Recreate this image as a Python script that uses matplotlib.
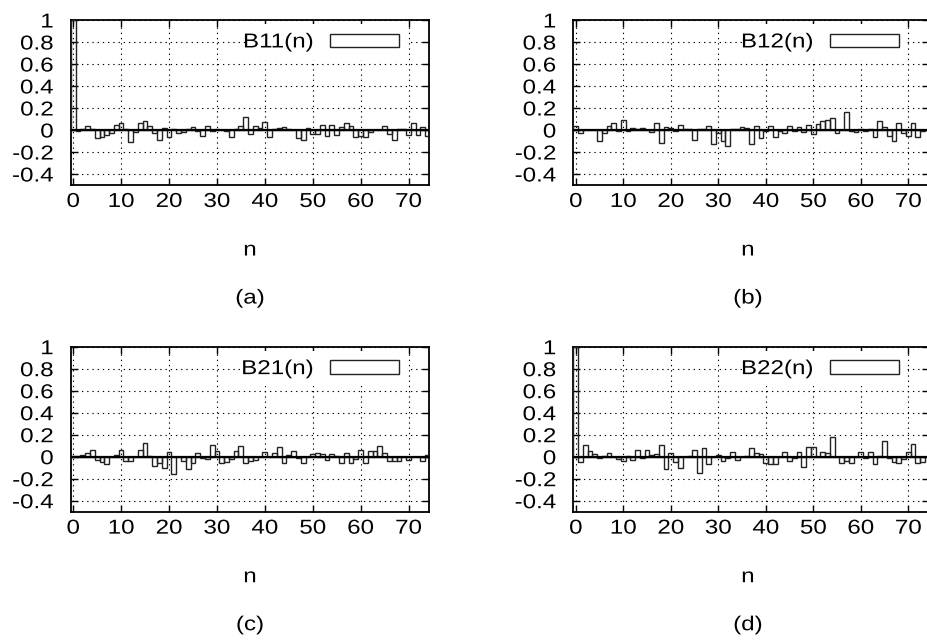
import numpy as np
import matplotlib
matplotlib.use('Agg')
import matplotlib.pyplot as plt
from matplotlib.patheffects import AbstractPathEffect
from matplotlib.transforms import Affine2D

FS = 14.5
plt.rcParams['font.family'] = ['Liberation Sans', 'DejaVu Sans']
plt.rcParams['font.size'] = FS

# sample correlation coefficients, lag n = 0, 1, 2, ...
b11 = [1.0, -0.01, 0.005, 0.035, 0.01, -0.075, -0.06, -0.045, -0.025, 0.05,
       0.06, 0.005, -0.105, -0.015, 0.06, 0.08, 0.04, -0.03, -0.09, 0.015,
       -0.065, 0.012, -0.03, -0.02, 0.01, 0.025, -0.012, -0.055, 0.035, -0.01,
       0.012, 0.0, -0.01, -0.06, 0.005, 0.04, 0.12, -0.035, 0.04, 0.015,
       0.07, -0.065, 0.01, 0.015, 0.03, 0.005, 0.0, -0.075, -0.095, 0.02,
       -0.035, -0.035, 0.05, -0.05, 0.05, -0.045, 0.03, 0.065, 0.035, -0.06,
       -0.05, -0.06, -0.015, 0.0, 0.0, 0.04, -0.04, -0.09, 0.01, 0.012,
       -0.045, 0.065, -0.045, 0.025, -0.05]
b12 = [0.035, -0.03, 0.0, 0.0, 0.0, -0.1, -0.03, 0.035, 0.06, -0.01,
       0.09, -0.005, 0.02, 0.01, 0.02, 0.0, -0.02, 0.06, -0.115, 0.03,
       0.02, -0.01, 0.05, 0.01, 0.01, -0.09, 0.01, 0.005, 0.04, -0.13,
       -0.03, -0.1, -0.145, 0.01, 0.01, 0.03, 0.02, -0.13, 0.035, -0.07,
       -0.01, 0.035, -0.06, -0.005, -0.03, 0.035, -0.01, 0.03, -0.02, 0.05,
       -0.04, 0.055, 0.08, 0.09, 0.105, -0.03, 0.0, 0.165, -0.01, -0.015,
       0.01, -0.005, 0.01, -0.06, 0.08, 0.03, -0.05, -0.1, 0.06, -0.03,
       -0.05, 0.065, -0.06, -0.01]
b21 = [0.01, 0.01, 0.02, 0.03, 0.065, -0.03, -0.05, -0.07, -0.005, 0.02,
       0.06, -0.04, -0.035, 0.0, 0.06, 0.125, 0.01, -0.085, -0.06, -0.1,
       0.04, -0.155, -0.005, -0.04, -0.11, -0.055, 0.035, -0.015, -0.025, 0.105,
       0.05, -0.06, -0.05, -0.02, 0.05, 0.1, -0.06, -0.04, -0.03, 0.0,
       0.04, 0.0, 0.035, 0.085, -0.06, 0.02, 0.055, -0.015, -0.055, 0.0,
       0.025, 0.035, 0.025, -0.03, 0.025, 0.01, -0.055, 0.03, -0.055, -0.025,
       0.065, -0.06, 0.055, 0.05, 0.095, 0.03, -0.035, -0.035, -0.035, 0.0,
       -0.03, 0.0, 0.0, -0.04, 0.02]
b22 = [1.0, -0.045, 0.105, 0.055, 0.025, -0.015, 0.005, 0.03, -0.005, -0.02,
       -0.035, 0.01, -0.03, 0.065, -0.01, 0.06, 0.02, 0.025, 0.105, -0.11,
       0.035, -0.045, -0.105, 0.0, 0.01, 0.06, -0.145, 0.075, -0.065, 0.0,
       0.02, -0.035, -0.015, 0.045, -0.03, 0.0, 0.01, 0.075, 0.035, 0.025,
       -0.055, -0.07, -0.07, 0.0, 0.04, -0.035, -0.01, 0.045, -0.095, 0.085,
       0.085, 0.0, 0.04, 0.035, 0.18, 0.0, -0.055, -0.035, -0.055, 0.0,
       0.04, -0.01, 0.04, -0.065, 0.01, 0.14, -0.015, -0.05, -0.055, -0.025,
       0.045, 0.115, -0.055, -0.045]

series = [b11, b12, b21, b22]
names = ['B11(n)', 'B12(n)', 'B21(n)', 'B22(n)']
captions = ['(a)', '(b)', '(c)', '(d)']

xticks = [0, 10, 20, 30, 40, 50, 60, 70]
yticks = [-0.4, -0.2, 0, 0.2, 0.4, 0.6, 0.8, 1]
ytick_labels = ['-0.4', '-0.2', '0', '0.2', '0.4', '0.6', '0.8', '1']

SX = 1.2  # horizontal widening of the lettering


class Widen(AbstractPathEffect):
    """Stretch text glyphs sideways about a fixed point of the string."""

    def __init__(self, sx, anchor):
        super().__init__()
        self.sx = sx
        self.anchor = anchor

    def draw_path(self, renderer, gc, tpath, affine, rgbFace=None):
        ext = tpath.get_extents()
        x0 = ext.x0 + self.anchor * ext.width
        st = Affine2D().translate(-x0, 0).scale(self.sx, 1).translate(x0, 0)
        renderer.draw_path(gc, tpath, st + affine, rgbFace)


W, H = 927, 641
fig = plt.figure(figsize=(W / 100, H / 100), dpi=100)
em = FS * 100 / 72  # font size in pixels

# plot boxes in pixels: left, top, width, height
boxes = [(70.8, 20, 358.3, 165), (573.4, 20, 355.3, 165),
         (70.8, 346.7, 358.3, 165), (573.4, 346.7, 355.3, 165)]
label_x = [0.5, 0.491, 0.5, 0.491]

for vals, name, cap, (l, t, w, h), lx in zip(series, names, captions, boxes, label_x):
    ax = fig.add_axes([l / W, 1 - (t + h) / H, w / W, h / H])
    n = np.arange(len(vals))
    ax.bar(n, vals, width=1.0, facecolor='none', edgecolor='#222222',
           linewidth=1.0, label=name, zorder=3)
    ax.axhline(0, color='black', linewidth=1.6, zorder=4)

    ax.set_xlim(-0.5, 74.3)
    ax.set_ylim(-0.5, 1.0)
    ax.set_xticks(xticks)
    ax.set_yticks(yticks)
    ax.set_yticklabels(ytick_labels)
    ax.tick_params(direction='in', length=5, width=1, top=True, right=True,
                   labelsize=FS)
    ax.tick_params(axis='y', pad=12.5)
    ax.tick_params(axis='x', pad=5)
    ax.grid(True, color='black', linewidth=0.8, linestyle=(0, (1.2, 3.5)), zorder=1)
    for sp in ax.spines.values():
        sp.set_linewidth(1.3)

    for lab in ax.get_xticklabels():
        lab.set_path_effects([Widen(SX, 0.5)])
    for lab in ax.get_yticklabels():
        lab.set_path_effects([Widen(SX, 1.0)])

    ax.set_xlabel('n', fontsize=FS)
    ax.xaxis.set_label_coords(lx, -0.394)
    ax.xaxis.label.set_va('center')
    ax.xaxis.label.set_path_effects([Widen(SX, 0.5)])
    ax.text(lx, -0.685, cap, transform=ax.transAxes, ha='center', va='center',
            fontsize=FS, path_effects=[Widen(SX, 0.5)])

    pad = 0.4 * em
    leg = ax.legend(loc='center right',
                    bbox_to_anchor=((399 + pad - 70.8) / 358.3, 0.867),
                    markerfirst=False, frameon=True, fancybox=False,
                    framealpha=1.0, facecolor='white', edgecolor='none',
                    handlelength=69 / em, handleheight=12.6 / em,
                    handletextpad=17 / em, borderpad=0.4, borderaxespad=0,
                    fontsize=FS)
    leg.set_zorder(5)
    for txt in leg.get_texts():
        txt.set_path_effects([Widen(SX, 1.0)])

fig.savefig('out.png', dpi=100)
